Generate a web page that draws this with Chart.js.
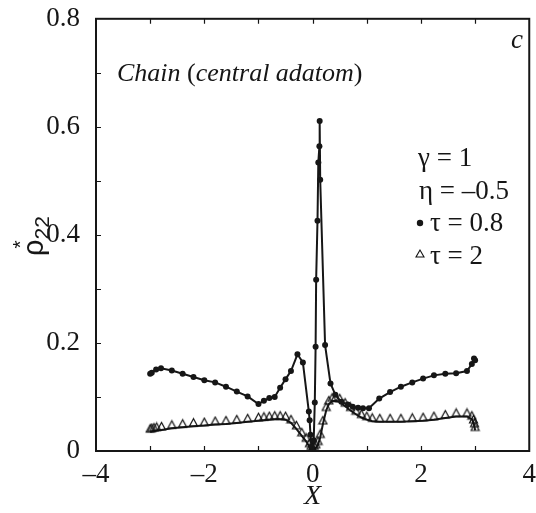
<!DOCTYPE html>
<html>
<head>
<meta charset="utf-8">
<script src="https://cdn.jsdelivr.net/npm/chart.js@4/dist/chart.umd.min.js"></script>
<style>
  html, body { margin: 0; padding: 0; background: #fff; }
  canvas { display: block; }
</style>
</head>
<body>
<canvas id="chart" width="536" height="513"></canvas>
<script>
// tau = 0.8 (filled dots)
const xDots = [-3.0, -2.97, -2.89, -2.8, -2.6, -2.4, -2.2, -2.0, -1.8, -1.6, -1.4, -1.2, -1.0, -0.9, -0.8, -0.7, -0.6, -0.5, -0.4, -0.28, -0.18,
  -0.07, -0.055, -0.04, -0.02, 0.0, 0.02, 0.04, 0.055, 0.065, 0.09, 0.105, 0.125, 0.13, 0.14, 0.23, 0.33, 0.42, 0.53, 0.65,
  0.74, 0.84, 0.93, 1.04, 1.23, 1.43, 1.63, 1.84, 2.04, 2.24, 2.45, 2.65, 2.85, 2.94, 2.98, 3.0];
const yDots = [0.143, 0.145, 0.151, 0.153, 0.149, 0.143, 0.137, 0.131, 0.127, 0.119, 0.110, 0.101, 0.087, 0.093, 0.098, 0.100, 0.117, 0.133, 0.148, 0.179, 0.164,
  0.073, 0.057, 0.03, 0.008, 0.0, 0.02, 0.09, 0.193, 0.317, 0.426, 0.534, 0.564, 0.611, 0.502, 0.196, 0.125, 0.104, 0.091, 0.086,
  0.082, 0.080, 0.079, 0.079, 0.097, 0.109, 0.119, 0.127, 0.134, 0.140, 0.143, 0.144, 0.148, 0.161, 0.171, 0.168];

// tau = 2 (open triangles)
const xTri = [-3.0, -2.97, -2.93, -2.88, -2.79, -2.6, -2.4, -2.2, -2.0, -1.8, -1.6, -1.4, -1.2, -1.0, -0.9, -0.8, -0.7, -0.6, -0.5, -0.4, -0.3, -0.2,
  -0.12, -0.06, -0.03, 0.0, 0.03, 0.06, 0.1, 0.14, 0.19, 0.25, 0.3, 0.36, 0.42, 0.5, 0.6, 0.7, 0.8, 0.9, 1.0, 1.1,
  1.24, 1.43, 1.63, 1.84, 2.04, 2.24, 2.45, 2.65, 2.85, 2.94, 2.97, 2.99, 3.0];
const yTri = [0.035, 0.036, 0.037, 0.038, 0.039, 0.042, 0.044, 0.046, 0.047, 0.049, 0.050, 0.052, 0.054, 0.056, 0.057, 0.058, 0.059, 0.059, 0.058, 0.052, 0.041, 0.028,
  0.018, 0.008, 0.003, 0.0, 0.003, 0.006, 0.012, 0.025, 0.05, 0.075, 0.087, 0.092, 0.093, 0.091, 0.083, 0.075, 0.068, 0.062, 0.058, 0.055,
  0.054, 0.054, 0.054, 0.055, 0.056, 0.058, 0.061, 0.064, 0.064, 0.059, 0.052, 0.045, 0.038];

const xTicks = [-4, -2, 0, 2, 4];
const yTicks = [0, 0.2, 0.4, 0.6, 0.8];
const legendLines = ['γ = 1', 'η = –0.5', 'τ = 0.8', 'τ = 2'];

const SERIF = '"Liberation Serif", "DejaVu Serif", serif';
const SANS = '"Liberation Sans", "DejaVu Sans", sans-serif';
const INK = '#161616';

// open triangle whose base sits on the data point
function makeTriangle() {
  const c = document.createElement('canvas');
  c.width = 11; c.height = 18;
  const g = c.getContext('2d');
  g.strokeStyle = '#111';
  g.lineWidth = 1.2;
  g.beginPath();
  g.moveTo(5.5, 1.5);
  g.lineTo(1.5, 9);
  g.lineTo(9.5, 9);
  g.closePath();
  g.stroke();
  return c;
}

const toPoints = (xs, ys) => xs.map((x, i) => ({ x: x, y: ys[i] }));

// frame with inward ticks
const framePlugin = {
  id: 'frame',
  afterDatasetsDraw(chart) {
    const { ctx, chartArea: a, scales } = chart;
    ctx.save();
    ctx.strokeStyle = INK;
    ctx.lineWidth = 2;
    ctx.strokeRect(a.left, a.top, a.right - a.left, a.bottom - a.top);
    ctx.lineWidth = 1.2;
    ctx.beginPath();
    for (let v = -3; v <= 3; v++) {
      const px = Math.round(scales.x.getPixelForValue(v)) + 0.5;
      ctx.moveTo(px, a.bottom); ctx.lineTo(px, a.bottom - 5);
      ctx.moveTo(px, a.top); ctx.lineTo(px, a.top + 5);
    }
    for (let k = 1; k < 8; k++) {
      const py = Math.round(scales.y.getPixelForValue(k / 10)) + 0.5;
      ctx.moveTo(a.left, py); ctx.lineTo(a.left + 5, py);
    }
    ctx.stroke();
    ctx.restore();
  }
};

// annotations: panel title, panel letter, parameter list, y-axis symbol
const textPlugin = {
  id: 'texts',
  afterDraw(chart) {
    const ctx = chart.ctx;
    ctx.save();
    ctx.fillStyle = INK;
    ctx.textBaseline = 'alphabetic';
    ctx.textAlign = 'left';

    // Chain (central adatom)
    let x = 117;
    const yT = 81;
    ctx.font = 'italic 26px ' + SERIF;
    ctx.fillText('Chain', x, yT); x += ctx.measureText('Chain ').width;
    ctx.font = '26px ' + SERIF;
    ctx.fillText('(', x, yT); x += ctx.measureText('(').width;
    ctx.font = 'italic 26px ' + SERIF;
    ctx.fillText('central adatom', x, yT); x += ctx.measureText('central adatom').width;
    ctx.font = '26px ' + SERIF;
    ctx.fillText(')', x, yT);

    ctx.font = 'italic 27px ' + SERIF;
    ctx.fillText('c', 511, 48);

    // parameter list
    ctx.font = '27px ' + SERIF;
    ctx.fillText(legendLines[0], 418, 166);
    ctx.fillText(legendLines[1], 419, 199);
    ctx.fillText(legendLines[2], 430, 231);
    ctx.fillText(legendLines[3], 430, 264);
    ctx.beginPath();
    ctx.arc(420, 223, 3.2, 0, Math.PI * 2);
    ctx.fill();
    ctx.strokeStyle = '#111';
    ctx.lineWidth = 1.1;
    ctx.beginPath();
    ctx.moveTo(420, 250); ctx.lineTo(416, 257); ctx.lineTo(424, 257); ctx.closePath();
    ctx.stroke();

    // y axis symbol rho*_22, rotated
    ctx.translate(43, 256);
    ctx.rotate(-Math.PI / 2);
    ctx.font = '29px ' + SANS;
    ctx.fillText('ρ', 0, 0);
    const w = ctx.measureText('ρ').width;
    ctx.font = '21px ' + SANS;
    ctx.fillText('*', w - 9, -16);
    ctx.fillText('22', w, 6);
    ctx.restore();
  }
};

new Chart(document.getElementById('chart'), {
  type: 'scatter',
  data: {
    datasets: [
      {
        label: 'τ = 0.8',
        data: toPoints(xDots, yDots),
        showLine: true,
        borderColor: INK,
        borderWidth: 2,
        backgroundColor: INK,
        pointBackgroundColor: INK,
        pointBorderColor: INK,
        pointRadius: 3,
        pointBorderWidth: 0,
        order: 1
      },
      {
        label: 'τ = 2',
        data: toPoints(xTri, yTri),
        showLine: true,
        borderColor: INK,
        borderWidth: 2,
        pointStyle: makeTriangle(),
        order: 2
      }
    ]
  },
  options: {
    responsive: false,
    animation: false,
    layout: { padding: { top: 9, right: 0, left: 0, bottom: 0 } },
    plugins: {
      legend: { display: false },
      tooltip: { enabled: false }
    },
    scales: {
      x: {
        type: 'linear',
        min: -4,
        max: 4,
        afterBuildTicks: (s) => { s.ticks = xTicks.map(v => ({ value: v })); },
        afterFit: (s) => { s.height = 62; },
        grid: { display: false },
        border: { display: false },
        ticks: {
          padding: 0,
          color: INK,
          font: { family: SERIF, size: 27 },
          callback: (v) => v < 0 ? '–' + Math.abs(v) : String(v)
        },
        title: {
          display: true,
          text: 'X',
          color: INK,
          padding: { top: 5, bottom: 0 },
          font: { family: SERIF, size: 28, style: 'italic' }
        }
      },
      y: {
        min: 0,
        max: 0.8,
        afterBuildTicks: (s) => { s.ticks = yTicks.map(v => ({ value: v })); },
        afterFit: (s) => { s.width = 96; },
        grid: { display: false },
        border: { display: false },
        ticks: {
          padding: 8,
          color: INK,
          font: { family: SERIF, size: 27, lineHeight: 0.8 },
          callback: (v) => v === 0 ? '0' : v.toFixed(1)
        }
      }
    }
  },
  plugins: [framePlugin, textPlugin]
});
</script>
</body>
</html>
